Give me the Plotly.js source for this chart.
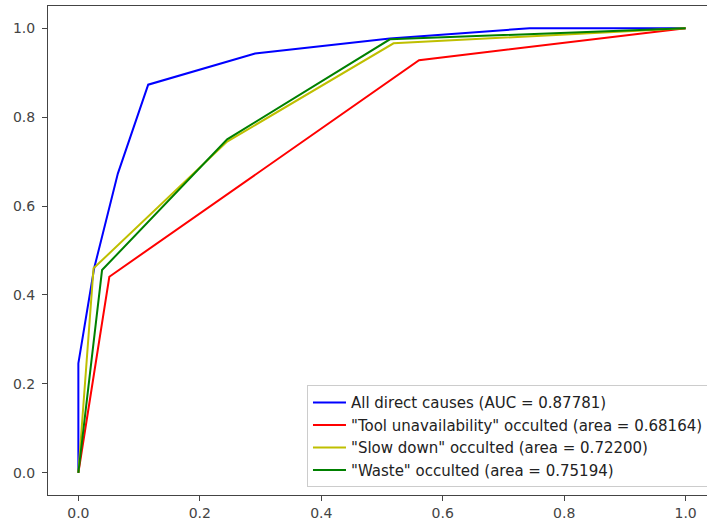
<!DOCTYPE html>
<html>
<head>
<meta charset="utf-8">
<script src="https://cdn.plot.ly/plotly-3.0.1.min.js"></script>
<style>
html, body { margin: 0; padding: 0; overflow: hidden; background: #fff; }
#chart { width: 720px; height: 520px; }
</style>
</head>
<body>
<div id="chart"></div>
<script>
// Series
const seriesNames = [
  'All direct causes (AUC = 0.87781)',
  '"Tool unavailability" occulted (area = 0.68164)',
  '"Slow down" occulted (area = 0.72200)',
  '"Waste" occulted (area = 0.75194)'
];
const allFpr = [0, 0, 0.026, 0.065, 0.115, 0.291, 0.513, 0.743, 1];
const allTpr = [0, 0.246, 0.46, 0.673, 0.873, 0.943, 0.977, 1.0, 1];
const toolFpr = [0, 0.051, 0.561, 1];
const toolTpr = [0, 0.441, 0.928, 1];
const slowFpr = [0, 0.025, 0.245, 0.519, 1];
const slowTpr = [0, 0.46, 0.745, 0.966, 1];
const wasteFpr = [0, 0.039, 0.245, 0.513, 1];
const wasteTpr = [0, 0.456, 0.75, 0.975, 1];
const tickVals = [0, 0.2, 0.4, 0.6, 0.8, 1.0];
const tickText = ['0.0', '0.2', '0.4', '0.6', '0.8', '1.0'];

const colors = ['#0000ff', '#ff0000', '#bfbf00', '#008000'];
const xs = [allFpr, toolFpr, slowFpr, wasteFpr];
const ys = [allTpr, toolTpr, slowTpr, wasteTpr];

const traces = xs.map((x, i) => ({
  x: x, y: ys[i], type: 'scatter', mode: 'lines', name: seriesNames[i],
  line: { color: colors[i], width: 2 }
}));

const axisCommon = {
  range: [-0.05, 1.05],
  tickvals: tickVals, ticktext: tickText,
  ticks: 'outside', ticklen: 5, tickwidth: 1, tickcolor: '#444',
  showline: true, mirror: true, linecolor: '#444', linewidth: 1,
  showgrid: false, zeroline: false,
  tickfont: { family: 'DejaVu Sans', size: 14, color: '#444' }
};

const layout = {
  width: 720, height: 520,
  margin: { l: 48, r: 4, t: 6, b: 25 },
  paper_bgcolor: '#fff', plot_bgcolor: '#fff',
  showlegend: true,
  xaxis: Object.assign({}, axisCommon, { ticklabelstandoff: 0 }),
  yaxis: Object.assign({}, axisCommon, { ticklabelstandoff: 4 }),
  legend: {
    x: 0.9895, y: 0.016, xanchor: 'right', yanchor: 'bottom',
    bgcolor: 'rgba(255,255,255,0.85)', bordercolor: '#cccccc', borderwidth: 1,
    font: { family: 'DejaVu Sans', size: 15, color: '#222' },
    itemwidth: 33
  }
};

Plotly.newPlot('chart', traces, layout, { displayModeBar: false, staticPlot: true });
</script>
</body>
</html>
